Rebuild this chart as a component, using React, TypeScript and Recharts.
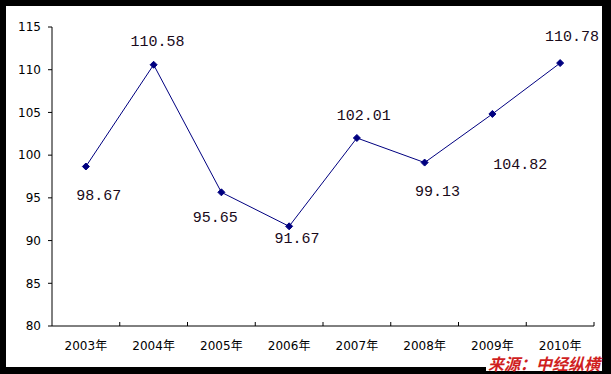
import React from 'react';
import { LineChart, Line, XAxis, YAxis } from 'recharts';

const years = ['2003年', '2004年', '2005年', '2006年', '2007年', '2008年', '2009年', '2010年'];
const values = [98.67, 110.58, 95.65, 91.67, 102.01, 99.13, 104.82, 110.78];
const yTicks = [80, 85, 90, 95, 100, 105, 110, 115];
// where each data label sits relative to its point (dx, dy)
const labelOffsets = [
  [13, 30],
  [4, -22],
  [-6, 26],
  [8, 13],
  [7, -21],
  [13, 30],
  [28, 52],
  [12, -26],
];

const data = years.map((year, i) => ({ year, value: values[i] }));

const W = 611;
const H = 374;
const PLOT_LEFT = 52;
const PLOT_RIGHT = 594;
const HALF_BAND = (PLOT_RIGHT - PLOT_LEFT) / years.length / 2;

const tickFont = '"DejaVu Sans", "Noto Sans CJK SC", sans-serif';

const YearTick = (props: any) => {
  const { x, y, payload } = props;
  const bx = x + HALF_BAND;
  return (
    <g>
      <line x1={bx} x2={bx} y1={y - 4} y2={y} stroke="#000" strokeWidth={1} />
      <text
        x={x}
        y={y + 20}
        textAnchor="middle"
        dominantBaseline="central"
        fontSize={12}
        fontFamily={tickFont}
        fill="#000"
      >
        {payload.value}
      </text>
    </g>
  );
};

const Diamond = (props: any) => {
  const { cx, cy } = props;
  if (cx == null || cy == null) return null;
  const r = 3.5;
  return (
    <polygon
      points={`${cx},${cy - r} ${cx + r},${cy} ${cx},${cy + r} ${cx - r},${cy}`}
      fill="#000080"
      stroke="#000080"
    />
  );
};

const ValueLabel = (props: any) => {
  const { x, y, index, value } = props;
  const [dx, dy] = labelOffsets[index] || [0, -20];
  return (
    <text
      x={x + dx}
      y={y + dy}
      textAnchor="middle"
      dominantBaseline="central"
      fontSize={15}
      fontFamily='"Liberation Mono", "DejaVu Sans Mono", monospace'
      fill="#1a0a1a"
    >
      {Number(value).toFixed(2)}
    </text>
  );
};

export default function App() {
  return (
    <div style={{ position: 'absolute', left: 0, top: 0, width: W, height: H, background: '#000' }}>
      <div style={{ position: 'absolute', left: 6, top: 6, width: 596, height: 361, background: '#fff' }} />
      <div style={{ position: 'absolute', left: 0, top: 0 }}>
        <LineChart
          width={W}
          height={H}
          data={data}
          margin={{ top: 27, right: W - PLOT_RIGHT, left: 0, bottom: 0 }}
        >
          <XAxis
            xAxisId="top"
            orientation="top"
            dataKey="year"
            height={0}
            padding={{ left: HALF_BAND, right: HALF_BAND }}
            tick={false}
            tickLine={false}
            axisLine={{ stroke: '#808080' }}
          />
          <YAxis
            yAxisId="right"
            orientation="right"
            domain={[80, 115]}
            width={0}
            tick={false}
            tickLine={false}
            axisLine={{ stroke: '#808080' }}
          />
          <XAxis
            dataKey="year"
            height={48}
            padding={{ left: HALF_BAND, right: HALF_BAND }}
            tickSize={0}
            tickMargin={0}
            axisLine={{ stroke: '#000' }}
            tickLine={false}
            tick={<YearTick />}
            interval={0}
          />
          <YAxis
            domain={[80, 115]}
            ticks={yTicks}
            width={PLOT_LEFT}
            tickSize={4}
            tickMargin={7}
            axisLine={{ stroke: '#000' }}
            tickLine={{ stroke: '#000' }}
            tick={{ fontSize: 12, fill: '#000', fontFamily: tickFont }}
          />
          <Line
            type="linear"
            dataKey="value"
            stroke="#000080"
            strokeWidth={1}
            dot={<Diamond />}
            activeDot={false}
            label={<ValueLabel />}
            isAnimationActive={false}
          />
        </LineChart>
      </div>
      <div
        style={{
          position: 'absolute',
          left: 486,
          top: 355,
          padding: '0 2px',
          background: '#fff',
          color: '#d01f1f',
          fontSize: 16,
          fontWeight: 'bold',
          fontStyle: 'italic',
          fontFamily: '"Noto Sans CJK SC", sans-serif',
          lineHeight: '16px',
          whiteSpace: 'nowrap',
        }}
      >
        来源：中经纵横
      </div>
    </div>
  );
}
